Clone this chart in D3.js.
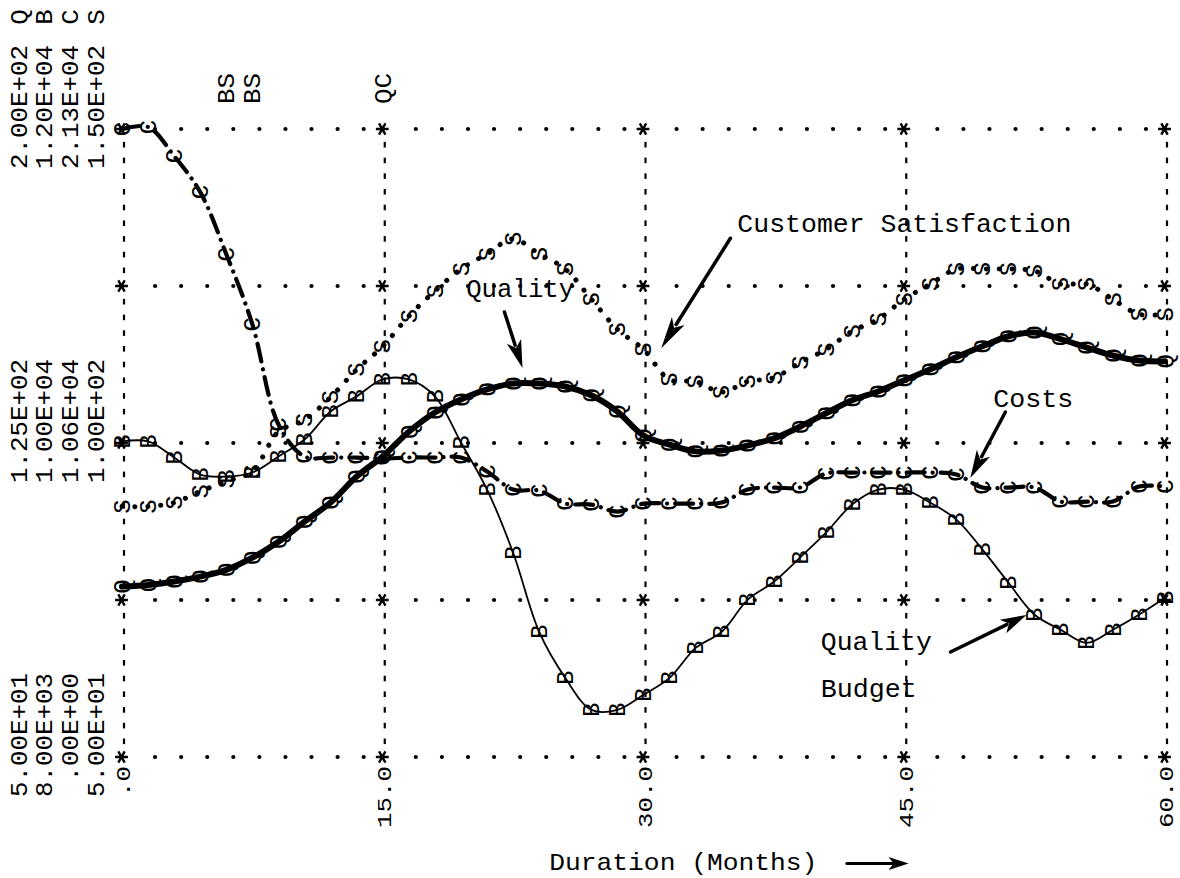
<!DOCTYPE html>
<html>
<head>
<meta charset="utf-8">
<title>Quality, Budget, Costs and Customer Satisfaction over Duration</title>
<script src="https://cdn.jsdelivr.net/npm/d3@7"></script>
<style>
  html, body { margin: 0; padding: 0; background: #fff; }
  svg { display: block; }
  text { font-family: "Liberation Mono", "Courier New", "DejaVu Sans Mono", monospace; fill: #000; }
</style>
</head>
<body>
<svg id="chart" width="1180" height="878"></svg>
<script>
// ---- data: one print line every 1.5 months ----
const months = [0, 1.5, 3, 4.5, 6, 7.5, 9, 10.5, 12, 13.5, 15, 16.5, 18, 19.5, 21, 22.5, 24, 25.5, 27, 28.5,
  30, 31.5, 33, 34.5, 36, 37.5, 39, 40.5, 42, 43.5, 45, 46.5, 48, 49.5, 51, 52.5, 54, 55.5, 57, 58.5, 60];

// Q : quality
const quality = [90.7, 91.1, 91.9, 93.1, 94.7, 97.6, 101.4, 106.2, 110.8, 117.0, 121.8, 127.7, 132.3, 135.4,
  137.8, 139.2, 139.2, 138.5, 136.4, 132.5, 126.8, 124.6, 123.0, 123.2, 124.4, 126.1, 128.9, 132.1, 135.2,
  137.3, 140.0, 142.6, 145.5, 148.1, 150.5, 151.4, 149.8, 147.8, 145.9, 144.7, 144.5];
// B : quality budget
const budget = [10010, 10010, 9908, 9799, 9786, 9812, 9914, 10022, 10201, 10297, 10405, 10405, 10297, 10003,
  9703, 9301, 8797, 8504, 8300, 8300, 8396, 8504, 8695, 8797, 9002, 9116, 9270, 9429, 9608, 9703, 9703,
  9620, 9512, 9321, 9110, 8906, 8810, 8727, 8810, 8906, 9014];
// C : costs
const costs = [21300, 21368, 20383, 19160, 17053, 14675, 11278, 10191, 10157, 10157, 10123, 10157, 10157, 10157,
  9682, 9070, 9036, 8595, 8561, 8323, 8595, 8595, 8595, 8629, 9070, 9138, 9138, 9614, 9648, 9648, 9648,
  9648, 9580, 9138, 9138, 9138, 8663, 8663, 8663, 9172, 9172];
// S : customer satisfaction
const satisfaction = [89.9, 89.9, 90.5, 92.3, 93.9, 95.5, 101.8, 103.7, 107.3, 111.7, 115.4, 120.2, 124.2, 127.7,
  130.1, 132.5, 130.1, 127.7, 122.9, 118.1, 114.9, 110.1, 109.8, 108.1, 109.8, 110.4, 112.8, 114.9, 117.8,
  119.7, 122.9, 125.3, 127.7, 127.7, 127.7, 127.4, 125.3, 125.3, 122.9, 120.5, 120.5];

// plotting ranges of the four variables
const qualityRange = [50, 200];
const budgetRange = [8000, 12000];
const costsRange = [0, 21300];
const satisfactionRange = [50, 150];

// scale labels printed for each variable column (bottom, middle, top)
const seriesLetters = ["Q", "B", "C", "S"];
const scaleTopLabels = ["2.00E+02", "1.20E+04", "2.13E+04", "1.50E+02"];
const scaleMidLabels = ["1.25E+02", "1.00E+04", "1.06E+04", "1.00E+02"];
const scaleBottomLabels = ["5.00E+01", "8.00E+03", ".00E+00", "5.00E+01"];

// time axis
const timeTicks = [0, 15, 30, 45, 60];
const timeTickLabels = [".0", "15.0", "30.0", "45.0", "60.0"];

// print lines where two plotted letters fall on the same position
const overlapTimes = [6, 7.5, 15];
const overlapLabels = ["BS", "BS", "QC"];

// ---- scales ----
const svg = d3.select("#chart");
const x = d3.scaleLinear().domain([0, 60]).range([122, 1165]);
const frame = d3.scaleLinear().domain([0, 1]).range([757, 129]);
const yQ = d3.scaleLinear().domain(qualityRange).range(frame.range());
const yB = d3.scaleLinear().domain(budgetRange).range(frame.range());
const yC = d3.scaleLinear().domain(costsRange).range(frame.range());
const yS = d3.scaleLinear().domain(satisfactionRange).range(frame.range());

const ADV = 15.5;   // character advance of the printer font
const gridRows = [0, 0.25, 0.5, 0.75, 1];

// rotated printer text (reads bottom to top)
function rotText(g, str, cx, cy, anchor, size) {
  return g.append("text")
    .attr("transform", `translate(${cx},${cy}) rotate(-90)`)
    .attr("text-anchor", anchor)
    .attr("dy", "0.35em")
    .attr("font-size", size)
    .attr("textLength", str.length * ADV)
    .attr("lengthAdjust", "spacingAndGlyphs")
    .text(str);
}

// ---- grid ----
const grid = svg.append("g");
const stepTimes = months.filter(t => !timeTicks.includes(t));

// vertical dashed lines at the labelled times
timeTicks.forEach(t => {
  const steps = d3.range(1, 40).filter(k => k % 10 !== 0);
  grid.selectAll(null).data(steps).join("line")
    .attr("x1", x(t) + 2).attr("x2", x(t) + 2)
    .attr("y1", k => frame(k / 40) - 2.8)
    .attr("y2", k => frame(k / 40) + 2.8)
    .attr("stroke", "#000").attr("stroke-width", 2.2);
});

// horizontal dotted lines
gridRows.forEach(r => {
  grid.selectAll(null).data(stepTimes).join("circle")
    .attr("cx", t => x(t) + 7)
    .attr("cy", frame(r))
    .attr("r", 2.1)
    .attr("fill", "#000");
});

// stars at the intersections
const star = d3.symbol().type(d3.symbolAsterisk).size(115);
timeTicks.forEach(t => {
  gridRows.forEach(r => {
    grid.append("path")
      .attr("d", star())
      .attr("transform", `translate(${x(t) - 0.5},${frame(r)}) rotate(90)`)
      .attr("fill", "none").attr("stroke", "#000").attr("stroke-width", 2.4);
  });
});

// ---- scale labels ----
const labels = svg.append("g");
const colX = [19, 44, 70, 96];
seriesLetters.forEach((s, i) => {
  rotText(labels, s, colX[i], 17, "middle", 23);
  rotText(labels, scaleTopLabels[i], colX[i], frame(1) - 84, "end", 23);
  rotText(labels, scaleMidLabels[i], colX[i], frame(0.5) - 84, "end", 23);
  rotText(labels, scaleBottomLabels[i], colX[i], frame(0) - 84, "end", 23);
});
timeTicks.forEach((t, i) => {
  rotText(labels, timeTickLabels[i], x(t) + 1, frame(0) + 9, "end", 21);
});
overlapTimes.forEach((t, i) => {
  rotText(labels, overlapLabels[i], x(t), 104, "start", 23);
});

// ---- curves ----
const curves = svg.append("g").attr("fill", "none").attr("stroke", "#000");
const lineOf = (vals, y) => d3.line()
  .x((d, i) => x(months[i]))
  .y(d => y(d))
  .curve(d3.curveCatmullRom.alpha(0.5))(vals);

curves.append("path").attr("d", lineOf(budget, yB))
  .attr("stroke-width", 1.8);
curves.append("path").attr("d", lineOf(costs, yC))
  .attr("stroke-width", 4.2).attr("stroke-linecap", "round")
  .attr("stroke-dasharray", "18 8 0.1 8");
curves.append("path").attr("d", lineOf(satisfaction, yS))
  .attr("stroke-width", 5).attr("stroke-linecap", "round")
  .attr("stroke-dasharray", "0.1 12.8");
curves.append("path").attr("d", lineOf(quality, yQ))
  .attr("stroke-width", 6).attr("stroke-linecap", "round");

// ---- plotted letters ----
const letters = svg.append("g");
[[quality, yQ, "Q"], [budget, yB, "B"], [costs, yC, "C"], [satisfaction, yS, "S"]].forEach(([vals, y, ch]) => {
  vals.forEach((v, i) => {
    letters.append("text")
      .attr("transform", `translate(${x(months[i])},${y(v)}) rotate(-90)`)
      .attr("text-anchor", "middle")
      .attr("dy", "0.32em")
      .attr("font-size", 24)
      .text(ch);
  });
});

// ---- annotations (positioned in chart coordinates: months, fraction of height) ----
const notes = svg.append("g");
function note(str, t, f, width, size = 25) {
  notes.append("text")
    .attr("x", x(t)).attr("y", frame(f))
    .attr("font-size", size)
    .attr("textLength", width)
    .attr("lengthAdjust", "spacingAndGlyphs")
    .text(str);
}
function arrow(from, to, shaftW, headL, headW) {
  const p0 = [x(from[0]), frame(from[1])];
  const p1 = [x(to[0]), frame(to[1])];
  const dx = p1[0] - p0[0], dy = p1[1] - p0[1];
  const len = Math.hypot(dx, dy);
  const ux = dx / len, uy = dy / len, nx = -uy, ny = ux;
  const bx = p1[0] - ux * headL, by = p1[1] - uy * headL;
  notes.append("line")
    .attr("x1", p0[0]).attr("y1", p0[1])
    .attr("x2", bx + ux * 4).attr("y2", by + uy * 4)
    .attr("stroke", "#000").attr("stroke-width", shaftW).attr("stroke-linecap", "round");
  notes.append("path")
    .attr("d", `M${p1[0]},${p1[1]}L${bx + nx * headW},${by + ny * headW}L${bx + ux * headL * 0.25},${by + uy * headL * 0.25}L${bx - nx * headW},${by - ny * headW}Z`)
    .attr("fill", "#000");
}

note("Customer Satisfaction", 35.4, 0.836, 334);
arrow([35.0, 0.826], [31.02, 0.651], 3.5, 32, 7.5);

note("Quality", 19.8, 0.7325, 108);
arrow([22.0, 0.7086], [23.04, 0.6194], 3.5, 28, 7.5);

note("Costs", 50.12, 0.5573, 80);
arrow([50.82, 0.5494], [48.8, 0.4443], 3.5, 28, 7.5);

note("Quality", 40.2, 0.1704, 111);
note("Budget", 40.2, 0.0955, 96);
arrow([47.66, 0.1672], [52.03, 0.2261], 3.5, 26, 7.5);

note("Duration (Months)", 24.58, -0.1799, 268, 24);
arrow([41.7, -0.1696], [45.25, -0.1696], 3, 20, 6.5);
</script>
</body>
</html>
